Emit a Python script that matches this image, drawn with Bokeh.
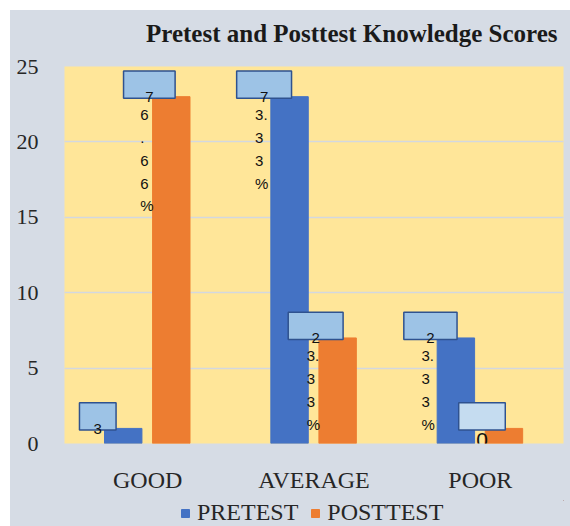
from bokeh.plotting import figure
from bokeh.models import ColumnDataSource, FactorRange, Legend, LegendItem, Label, FixedTicker, Spacer
from bokeh.layouts import column, row
from bokeh.transform import dodge
from bokeh.core.properties import value
from bokeh.embed import file_html
from bokeh.resources import INLINE

# ---- data ----
categories = ["GOOD", "AVERAGE", "POOR"]
series_names = ["PRETEST", "POSTTEST"]
pretest = [1, 23, 7]
posttest = [23, 7, 1]
pre_label_top = ["3", "7", "2"]
pre_label_rest = ["", "3.\n3\n3\n%", "3.\n3\n3\n%"]
post_label_top = ["7", "2", "0"]
post_label_rest = ["6\n.\n6\n6\n%", "3.\n3\n3\n%", ""]
y_ticks = [0, 5, 10, 15, 20, 25]
title_text = "Pretest and Posttest Knowledge Scores"

BLUE = "#4472c4"
ORANGE = "#ed7d31"
GRAY = "#d6dce5"
SERIF = "Liberation Serif"
LABFONT = "Liberation Sans"


def strip(h):
    f = figure(width=560, height=h, output_backend="svg", toolbar_location=None,
               x_range=(0, 1), y_range=(0, 1), min_border=0,
               x_axis_location=None, y_axis_location=None)
    f.border_fill_color = GRAY
    f.background_fill_alpha = 0
    f.outline_line_color = None
    f.grid.visible = False
    return f


# title strip
tt = strip(40)
tt.add_layout(Label(x=493, y=17, x_units="screen", y_units="screen", text=title_text,
                    text_font=SERIF, text_font_size="25px", text_font_style="bold",
                    text_color="#1a1a1a", text_align="right", text_baseline="alphabetic"))

# main chart
p = figure(x_range=FactorRange(*categories, range_padding=0), y_range=(0, 25),
           width=560, height=450, output_backend="svg", toolbar_location=None,
           min_border_left=54, min_border_right=7, min_border_top=16, min_border_bottom=57)
p.border_fill_color = GRAY
p.background_fill_color = "#ffe699"
p.outline_line_color = None

pre_src = ColumnDataSource(dict(cat=categories, val=pretest, ltop=pre_label_top, lrest=pre_label_rest))
post_src = ColumnDataSource(dict(cat=categories, val=posttest, ltop=post_label_top, lrest=post_label_rest))

# per-row label box styling
pre_src.data["w"] = [0.22, 0.33, 0.32]
post_src.data["w"] = [0.31, 0.33, 0.28]
pre_src.data["fill"] = ["#9dc3e6"] * 3
post_src.data["fill"] = ["#9dc3e6", "#9dc3e6", "#c5dcf0"]
pre_src.data["fs"] = ["15px", "15px", "15px"]
post_src.data["fs"] = ["15px", "15px", "21px"]
pre_src.data["yo"] = [-1, -1, -1]
post_src.data["yo"] = [-1, -1, 10]
for src in (pre_src, post_src):
    src.data["bottom"] = [v - 0.1 for v in src.data["val"]]
    src.data["ymid"] = [v - 0.1 + 0.9 for v in src.data["val"]]

p.vbar(x=dodge("cat", -0.147, range=p.x_range), top="val", width=0.225,
       source=pre_src, fill_color=BLUE, line_color=BLUE)
p.vbar(x=dodge("cat", 0.142, range=p.x_range), top="val", width=0.225,
       source=post_src, fill_color=ORANGE, line_color=ORANGE)

for src, off in ((pre_src, -0.30), (post_src, 0.01)):
    # wrapped remainder of the data labels
    p.text(x=dodge("cat", off, range=p.x_range), y="val", text="lrest", source=src,
           text_font=value(LABFONT), text_font_size="15px", text_color="#111111",
           text_align="left", text_baseline="top", x_offset=-9, y_offset=9,
           text_line_height=1.35)

for src, off in ((pre_src, -0.30), (post_src, 0.01)):
    p.rect(x=dodge("cat", off, range=p.x_range), y="ymid", width="w", height=1.8,
           source=src, fill_color="fill", line_color="#2f528f", line_width=1.5)
    p.text(x=dodge("cat", off, range=p.x_range), y="bottom", text="ltop", source=src,
           text_font=value(LABFONT), text_font_size="fs", text_color="#111111",
           text_align="center", text_baseline="alphabetic", y_offset="yo")

# axes
p.yaxis.ticker = FixedTicker(ticks=y_ticks)
p.yaxis.axis_line_color = None
p.yaxis.major_tick_line_color = None
p.yaxis.minor_tick_line_color = None
p.yaxis.major_label_text_font = SERIF
p.yaxis.major_label_text_font_size = "22px"
p.yaxis.major_label_text_color = "#262626"
p.yaxis.major_label_standoff = 20

p.xaxis.axis_line_color = None
p.xaxis.major_tick_line_color = None
p.xaxis.major_label_text_font = SERIF
p.xaxis.major_label_text_font_size = "24px"
p.xaxis.major_label_text_color = "#262626"
p.xaxis.major_label_standoff = 17

p.xgrid.grid_line_color = None
p.ygrid.grid_line_color = "#d3d8e0"
p.ygrid.grid_line_width = 1.5

# legend strip below the chart
lg = strip(26)
# off-range placeholder bars, used only for the legend swatches
l_pre = lg.vbar(x=[5], top=[5], bottom=[4], width=0.1, fill_color=BLUE, line_color=BLUE)
l_post = lg.vbar(x=[5], top=[5], bottom=[4], width=0.1, fill_color=ORANGE, line_color=ORANGE)
legend = Legend(items=[LegendItem(label=series_names[0], renderers=[l_pre]),
                       LegendItem(label=series_names[1], renderers=[l_post])],
                orientation="horizontal", location=(116, 0),
                label_text_font=SERIF, label_text_font_size="24px", label_text_color="#262626",
                glyph_width=10, glyph_height=10, label_standoff=7, spacing=12,
                padding=0, margin=0, border_line_color=None, background_fill_alpha=0)
lg.add_layout(legend, "center")

chart = column(tt, p, lg, styles={"background-color": GRAY})
layout = column(Spacer(height=10, width=570), row(Spacer(width=10, height=516), chart))
open("out.html", "w").write(file_html(layout, INLINE))
